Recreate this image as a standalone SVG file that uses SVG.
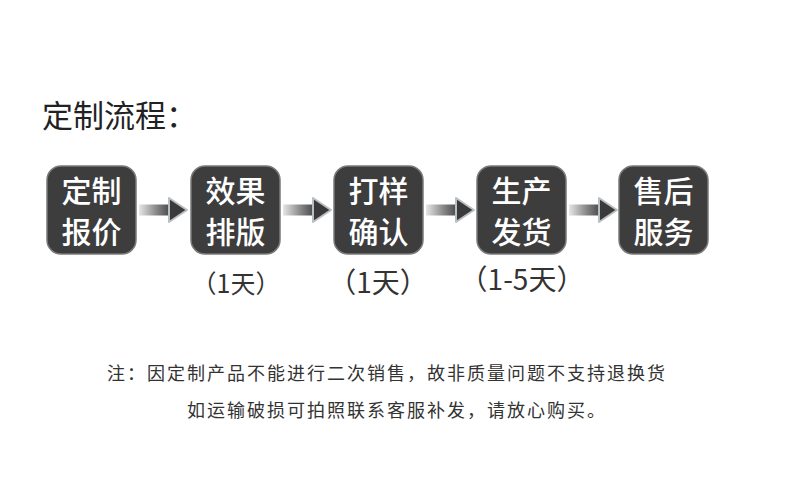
<svg xmlns="http://www.w3.org/2000/svg" width="790" height="492" viewBox="0 0 790 492">
<defs>
<linearGradient id="shaft" x1="0" y1="0" x2="1" y2="0">
<stop offset="0" stop-color="#e6e6e6"/>
<stop offset="0.5" stop-color="#8a8a8a"/>
<stop offset="1" stop-color="#3a3a3a"/>
</linearGradient>
<g id="arrow">
<rect x="0" y="-5.5" width="34" height="11" fill="url(#shaft)"/>
<path d="M30,-12 L48,0 L30,12 Z" fill="#3a3a3a" stroke="#b8c0c4" stroke-width="2" stroke-linejoin="round"/>
</g>
</defs>
<style>
.box{fill:#3d3d3d;stroke:#7a7a7a;stroke-width:1.5}
.bt{font-family:"Noto Sans CJK SC",sans-serif;font-size:30px;font-weight:500;fill:#ffffff;text-anchor:middle}
.title{font-family:"Noto Sans CJK SC",sans-serif;font-size:31px;fill:#222222}
.lbl{font-family:"Noto Sans CJK SC",sans-serif;fill:#333333;text-anchor:middle}
.note{font-family:"Noto Sans CJK SC",sans-serif;font-size:18px;fill:#333333;letter-spacing:2px}
</style>
<rect width="790" height="492" fill="#ffffff"/>
<text class="title" x="42" y="127">定制流程：</text>
<g id="connectors">
<use href="#arrow" x="139" y="210"/>
<use href="#arrow" x="283" y="210"/>
<use href="#arrow" x="426" y="210"/>
<use href="#arrow" x="569" y="210"/>
</g>
<g id="n1"><rect class="box" x="47" y="166" width="89" height="88" rx="14"/><text class="bt" x="91.5" y="202">定制</text><text class="bt" x="91.5" y="243">报价</text></g>
<g id="n2"><rect class="box" x="191" y="166" width="89" height="88" rx="14"/><text class="bt" x="235.5" y="202">效果</text><text class="bt" x="235.5" y="243">排版</text></g>
<g id="n3"><rect class="box" x="334" y="166" width="89" height="88" rx="14"/><text class="bt" x="378.5" y="202">打样</text><text class="bt" x="378.5" y="243">确认</text></g>
<g id="n4"><rect class="box" x="477" y="166" width="89" height="88" rx="14"/><text class="bt" x="521.5" y="202">生产</text><text class="bt" x="521.5" y="243">发货</text></g>
<g id="n5"><rect class="box" x="619" y="166" width="89" height="88" rx="14"/><text class="bt" x="663.5" y="202">售后</text><text class="bt" x="663.5" y="243">服务</text></g>
<text class="lbl" x="236" y="293" font-size="25">（1天）</text>
<text class="lbl" x="378" y="293" font-size="28">（1天）</text>
<text class="lbl" x="522" y="290" font-size="28">（1-5天）</text>
<text class="note" x="107" y="380">注：因定制产品不能进行二次销售，故非质量问题不支持退换货</text>
<text class="note" x="187" y="417">如运输破损可拍照联系客服补发，请放心购买。</text>
</svg>
